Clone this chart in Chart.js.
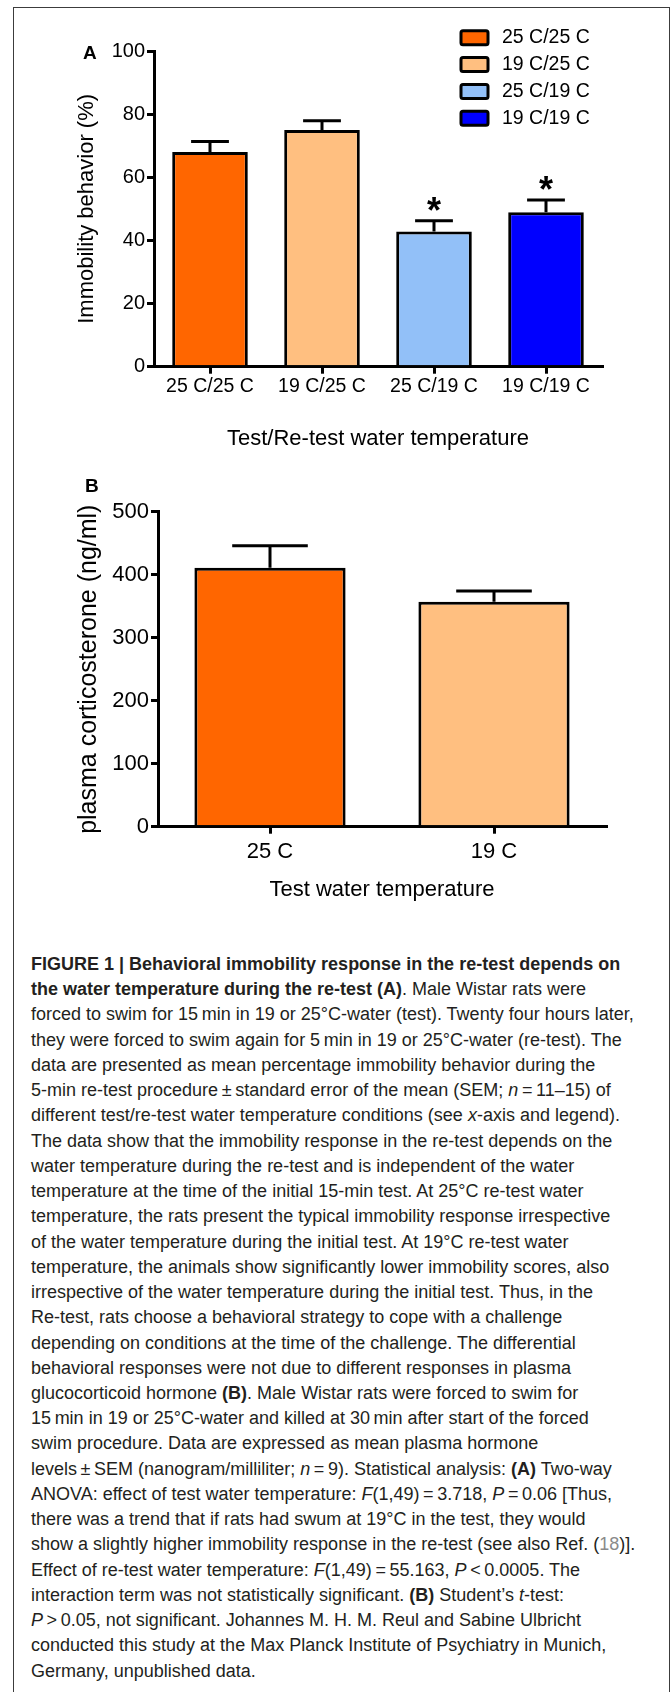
<!DOCTYPE html>
<html>
<head>
<meta charset="utf-8">
<script src="https://cdn.jsdelivr.net/npm/chart.js@4.4.0/dist/chart.umd.min.js"></script>
<style>
html, body { margin: 0; padding: 0; background: #fff; }
#page { position: relative; width: 671px; height: 1692px; overflow: hidden; }
#frame { position: absolute; left: 13px; top: 7px; width: 655px; height: 1700px; border: 1.5px solid #3c3c3c; border-bottom: none; }
canvas { position: absolute; left: 0; }
#chartA { top: 0; }
#chartB { top: 460px; }
#caption { position: absolute; left: 31px; top: 952px; font-family: 'Liberation Sans', Arial, sans-serif; font-size: 18px; line-height: 25.24px; color: #231f20; white-space: nowrap; }
#caption .ref { color: #8a8a8a; }
</style>
</head>
<body>
<div id="page">
  <div id="frame"></div>
  <canvas id="chartA" width="671" height="460"></canvas>
  <canvas id="chartB" width="671" height="460"></canvas>
  <div id="caption">
    <div><b>FIGURE 1 | Behavioral immobility response in the re-test depends on</b></div>
    <div><b>the water temperature during the re-test (A)</b>. Male Wistar rats were</div>
    <div>forced to swim for 15&thinsp;min in 19 or 25°C-water (test). Twenty four hours later,</div>
    <div>they were forced to swim again for 5&thinsp;min in 19 or 25°C-water (re-test). The</div>
    <div>data are presented as mean percentage immobility behavior during the</div>
    <div>5-min re-test procedure&thinsp;±&thinsp;standard error of the mean (SEM; <i>n</i>&thinsp;=&thinsp;11–15) of</div>
    <div>different test/re-test water temperature conditions (see <i>x</i>-axis and legend).</div>
    <div>The data show that the immobility response in the re-test depends on the</div>
    <div>water temperature during the re-test and is independent of the water</div>
    <div>temperature at the time of the initial 15-min test. At 25°C re-test water</div>
    <div>temperature, the rats present the typical immobility response irrespective</div>
    <div>of the water temperature during the initial test. At 19°C re-test water</div>
    <div>temperature, the animals show significantly lower immobility scores, also</div>
    <div>irrespective of the water temperature during the initial test. Thus, in the</div>
    <div>Re-test, rats choose a behavioral strategy to cope with a challenge</div>
    <div>depending on conditions at the time of the challenge. The differential</div>
    <div>behavioral responses were not due to different responses in plasma</div>
    <div>glucocorticoid hormone <b>(B)</b>. Male Wistar rats were forced to swim for</div>
    <div>15&thinsp;min in 19 or 25°C-water and killed at 30&thinsp;min after start of the forced</div>
    <div>swim procedure. Data are expressed as mean plasma hormone</div>
    <div>levels&thinsp;±&thinsp;SEM (nanogram/milliliter; <i>n</i>&thinsp;=&thinsp;9). Statistical analysis: <b>(A)</b> Two-way</div>
    <div>ANOVA: effect of test water temperature: <i>F</i>(1,49)&thinsp;=&thinsp;3.718, <i>P</i>&thinsp;=&thinsp;0.06 [Thus,</div>
    <div>there was a trend that if rats had swum at 19°C in the test, they would</div>
    <div>show a slightly higher immobility response in the re-test (see also Ref. (<span class="ref">18</span>)].</div>
    <div>Effect of re-test water temperature: <i>F</i>(1,49)&thinsp;=&thinsp;55.163, <i>P</i>&thinsp;&lt;&thinsp;0.0005. The</div>
    <div>interaction term was not statistically significant. <b>(B)</b> Student’s <i>t</i>-test:</div>
    <div><i>P</i>&thinsp;&gt;&thinsp;0.05, not significant. Johannes M. H. M. Reul and Sabine Ulbricht</div>
    <div>conducted this study at the Max Planck Institute of Psychiatry in Munich,</div>
    <div>Germany, unpublished data.</div>
  </div>
</div>
<script>
// Panel A: immobility in the re-test (%)
const groupsA = ['25 C/25 C', '19 C/25 C', '25 C/19 C', '19 C/19 C'];
const immobility = [68, 75, 42.8, 48.9];
const immobilitySEM = [3.3, 2.9, 3.4, 3.9];
const significantA = [false, false, true, true];
const yTicksA = [0, 20, 40, 60, 80, 100];
const colorsA = ['#ff6600', '#ffbf80', '#92c0f8', '#0000ff'];

// Panel B: plasma corticosterone (ng/ml)
const groupsB = ['25 C', '19 C'];
const corticosterone = [411, 357];
const corticosteroneSEM = [35, 17];
const yTicksB = [0, 100, 200, 300, 400, 500];
const colorsB = ['#ff6600', '#ffbf80'];

Chart.defaults.font.family = "'Liberation Sans', Arial, sans-serif";
Chart.defaults.color = '#000';

// upper error bar (half bar width cap) + optional asterisk
const errorBars = {
    id: 'errorBars',
    afterDatasetsDraw(chart, args, opts) {
        const ctx = chart.ctx;
        const yScale = chart.scales.y;
        const values = chart.data.datasets[0].data;
        ctx.save();
        ctx.strokeStyle = '#000';
        ctx.lineWidth = 3;
        chart.getDatasetMeta(0).data.forEach((bar, i) => {
            const top = yScale.getPixelForValue(values[i] + opts.sem[i]);
            const half = bar.width / 4;
            ctx.beginPath();
            ctx.moveTo(bar.x, bar.y);
            ctx.lineTo(bar.x, top);
            ctx.moveTo(bar.x - half, top);
            ctx.lineTo(bar.x + half, top);
            ctx.stroke();
            if (opts.stars && opts.stars[i]) {
                ctx.fillStyle = '#000';
                ctx.font = "bold 36px 'Liberation Sans', Arial, sans-serif";
                ctx.textAlign = 'center';
                ctx.textBaseline = 'alphabetic';
                const m = ctx.measureText('*');
                const cy = top - 17;
                ctx.fillText('*', bar.x, cy + (m.actualBoundingBoxAscent - m.actualBoundingBoxDescent) / 2);
            }
        });
        ctx.restore();
    }
};

// stacked legend with outlined swatches
const boxLegend = {
    id: 'boxLegend',
    afterDraw(chart, args, opts) {
        if (!opts.labels) return;
        const ctx = chart.ctx;
        ctx.save();
        opts.labels.forEach((label, i) => {
            const cy = opts.y + i * opts.step;
            ctx.beginPath();
            ctx.roundRect(opts.x, cy - 7, 27, 14, 2);
            ctx.fillStyle = opts.colors[i];
            ctx.fill();
            ctx.lineWidth = 3;
            ctx.strokeStyle = '#000';
            ctx.stroke();
            ctx.fillStyle = '#000';
            ctx.font = "19.5px 'Liberation Sans', Arial, sans-serif";
            ctx.textAlign = 'left';
            ctx.textBaseline = 'middle';
            ctx.fillText(label, opts.x + 41, cy);
        });
        ctx.restore();
    }
};

// bold panel letter
const panelLetter = {
    id: 'panelLetter',
    afterDraw(chart, args, opts) {
        const ctx = chart.ctx;
        ctx.save();
        ctx.fillStyle = '#000';
        ctx.font = "bold 19px 'Liberation Sans', Arial, sans-serif";
        ctx.textBaseline = 'alphabetic';
        ctx.fillText(opts.text, opts.x, opts.y);
        ctx.restore();
    }
};

function axisGrid() {
    return { offset: false, drawOnChartArea: false, color: '#000', lineWidth: 3, tickLength: 7 };
}

function makeBarChart(canvasId, cfg) {
    return new Chart(document.getElementById(canvasId), {
        type: 'bar',
        data: {
            labels: cfg.labels,
            datasets: [{
                data: cfg.values,
                backgroundColor: cfg.colors,
                borderColor: '#000',
                borderWidth: 3,
                barPercentage: 0.675,
                categoryPercentage: 1
            }]
        },
        options: {
            responsive: false,
            animation: false,
            events: [],
            layout: { padding: cfg.padding },
            plugins: {
                legend: { display: false },
                tooltip: { enabled: false },
                errorBars: { sem: cfg.sem, stars: cfg.stars },
                boxLegend: cfg.legend || {},
                panelLetter: cfg.letter
            },
            scales: {
                x: {
                    offset: true,
                    grid: axisGrid(),
                    border: { color: '#000', width: 3 },
                    ticks: { font: { size: cfg.xTickSize }, padding: cfg.xTickPad, maxRotation: 0, autoSkip: false },
                    title: { display: true, text: cfg.xTitle, font: { size: 22 }, padding: { top: 0, bottom: cfg.xTitlePad } },
                    afterFit: s => { s.height = 93.3; }
                },
                y: {
                    min: 0,
                    max: cfg.yTicks[cfg.yTicks.length - 1],
                    afterBuildTicks: s => { s.ticks = cfg.yTicks.map(v => ({ value: v })); },
                    grid: axisGrid(),
                    border: { color: '#000', width: 3 },
                    ticks: { font: { size: cfg.yTickSize }, padding: 2 },
                    title: { display: true, text: cfg.yTitle, font: { size: cfg.yTitleSize }, padding: { top: cfg.yTitlePad, bottom: 0 } },
                    afterFit: s => { s.width = cfg.axisX; }
                }
            }
        },
        plugins: [errorBars, boxLegend, panelLetter]
    });
}

makeBarChart('chartA', {
    labels: groupsA, values: immobility, sem: immobilitySEM, stars: significantA, colors: colorsA,
    yTicks: yTicksA, yTitle: 'Immobility behavior (%)', yTitleSize: 22, yTitlePad: 74, yTickSize: 20,
    xTitle: 'Test/Re-test water temperature', xTitlePad: 8, xTickSize: 19.5, xTickPad: 1,
    axisX: 154, padding: { left: 0, right: 69, top: 51, bottom: 0 },
    legend: { labels: groupsA, colors: colorsA, x: 461, y: 37.8, step: 26.8 },
    letter: { text: 'A', x: 83, y: 58.5 }
});

makeBarChart('chartB', {
    labels: groupsB, values: corticosterone, sem: corticosteroneSEM, stars: null, colors: colorsB,
    yTicks: yTicksB, yTitle: 'plasma corticosterone (ng/ml)', yTitleSize: 25, yTitlePad: 74.6, yTickSize: 22,
    xTitle: 'Test water temperature', xTitlePad: 16.4, xTickSize: 22, xTickPad: 5.5,
    axisX: 158, padding: { left: 0, right: 65, top: 51.7, bottom: 0 },
    letter: { text: 'B', x: 85, y: 31.5 }
});
</script>
</body>
</html>
